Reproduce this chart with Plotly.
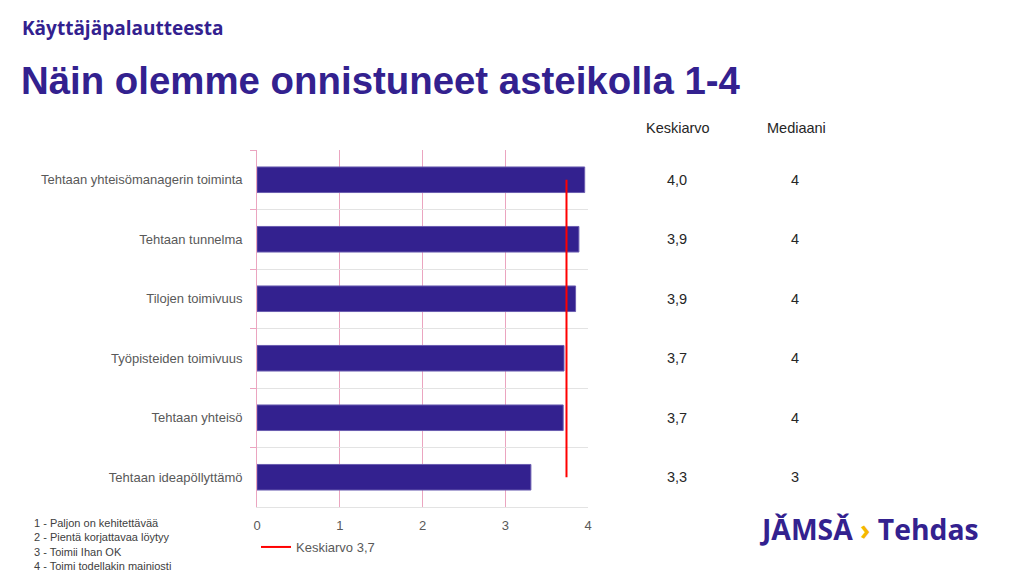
import plotly.graph_objects as go

categories = [
    "Tehtaan yhteisömanagerin toiminta",
    "Tehtaan tunnelma",
    "Tilojen toimivuus",
    "Työpisteiden toimivuus",
    "Tehtaan yhteisö",
    "Tehtaan ideapöllyttämö",
]
scores = [3.96, 3.89, 3.85, 3.71, 3.70, 3.31]
mean_value = 3.74
mean_label = "Keskiarvo 3,7"
mean_text = ["4,0", "3,9", "3,9", "3,7", "3,7", "3,3"]
median_text = ["4", "4", "4", "4", "4", "3"]
scale_notes = [
    "1 - Paljon on kehitettävää",
    "2 - Pientä korjattavaa löytyy",
    "3 - Toimii Ihan OK",
    "4 - Toimi todellakin mainiosti",
]
x_ticks = [0, 1, 2, 3, 4]

PURPLE = "#33218f"
PINK = "#eba5c0"
GRID = "#e3e3e3"
TXT = "#595959"
FONT = "Liberation Sans, Arial"

# page body has an 8px margin -> compensate
OFF = 8
W, H = 1024, 576
PL, PT = 257, 150          # plot-area left/top in page pixels
pw, ph = 331, 357          # plot-area size
L, T = PL - OFF, PT - OFF
R = W - L - pw
B = H - T - ph


def px(xp):
    return (xp - PL) / pw


def py(yp):
    return 1 - (yp - PT) / ph


fig = go.Figure()
fig.add_trace(go.Bar(
    x=scores, y=categories, orientation="h",
    marker=dict(color=PURPLE, line=dict(color="#6a5cb0", width=1)),
    width=0.43, showlegend=False, hoverinfo="x+y",
))
fig.add_trace(go.Scatter(
    x=[mean_value, mean_value], y=[categories[0], categories[-1]],
    mode="lines", line=dict(color="#ff0000", width=2),
    name=mean_label, showlegend=True,
))

fig.update_yaxes(
    type="category", autorange="reversed", tickson="boundaries",
    showgrid=True, gridcolor=GRID, gridwidth=1,
    ticks="outside", ticklen=6, tickcolor=PINK,
    showline=True, linecolor=PINK, linewidth=1,
    tickfont=dict(family=FONT, size=13, color=TXT),
    ticksuffix="   ",
)
fig.update_xaxes(
    range=[0, 4], tickvals=x_ticks, ticktext=[str(v) for v in x_ticks],
    showgrid=True, gridcolor=PINK, gridwidth=1,
    zeroline=False, showline=True, linecolor=GRID,
    ticks="outside", ticklen=6, tickcolor="rgba(0,0,0,0)",
    tickfont=dict(family=FONT, size=13, color=TXT),
)

ann = []
hdr_font = dict(family=FONT, size=14.5, color="#262626")
ann.append(dict(x=px(678), y=py(128), xref="paper", yref="paper", xanchor="center", yanchor="middle",
                text="Keskiarvo", showarrow=False, font=hdr_font))
ann.append(dict(x=px(796), y=py(128), xref="paper", yref="paper", xanchor="center", yanchor="middle",
                text="Mediaani", showarrow=False, font=hdr_font))
for i, cat in enumerate(categories):
    ann.append(dict(x=px(677), y=cat, xref="paper", yref="y", xanchor="center", yanchor="middle",
                    text=mean_text[i], showarrow=False, font=hdr_font))
    ann.append(dict(x=px(795), y=cat, xref="paper", yref="y", xanchor="center", yanchor="middle",
                    text=median_text[i], showarrow=False, font=hdr_font))

# Titles
ann.append(dict(x=px(20), y=py(28), xref="paper", yref="paper", xanchor="left", yanchor="middle",
                text="<b>Käyttäjäpalautteesta</b>", showarrow=False,
                font=dict(family="Open Sans", size=19, color=PURPLE)))
ann.append(dict(x=px(19), y=py(80), xref="paper", yref="paper", xanchor="left", yanchor="middle",
                text="<b>Näin olemme onnistuneet asteikolla 1-4</b>", showarrow=False,
                font=dict(family=FONT, size=38.4, color=PURPLE)))

# Scale notes
ann.append(dict(x=px(32), y=py(544), xref="paper", yref="paper", xanchor="left", yanchor="middle",
                align="left", text="<br>".join(scale_notes), showarrow=False,
                font=dict(family=FONT, size=11, color="#404040")))

# Logo
ann.append(dict(x=px(757), y=py(529), xref="paper", yref="paper", xanchor="left", yanchor="middle",
                text="<b>JǍMSǍ</b> <span style='color:#f5b800'><b>›</b></span> <b>Tehdas</b>",
                showarrow=False, font=dict(family="Open Sans", size=28.3, color=PURPLE)))

fig.update_layout(
    width=W, height=H,
    margin=dict(l=L, r=R, t=T, b=B),
    paper_bgcolor="white", plot_bgcolor="white",
    annotations=ann,
    legend=dict(orientation="h", x=px(256), y=py(532), xanchor="left", yanchor="top",
                font=dict(family=FONT, size=13, color=TXT),
                bgcolor="rgba(0,0,0,0)", itemwidth=30),
)

fig.write_html("out.html")
